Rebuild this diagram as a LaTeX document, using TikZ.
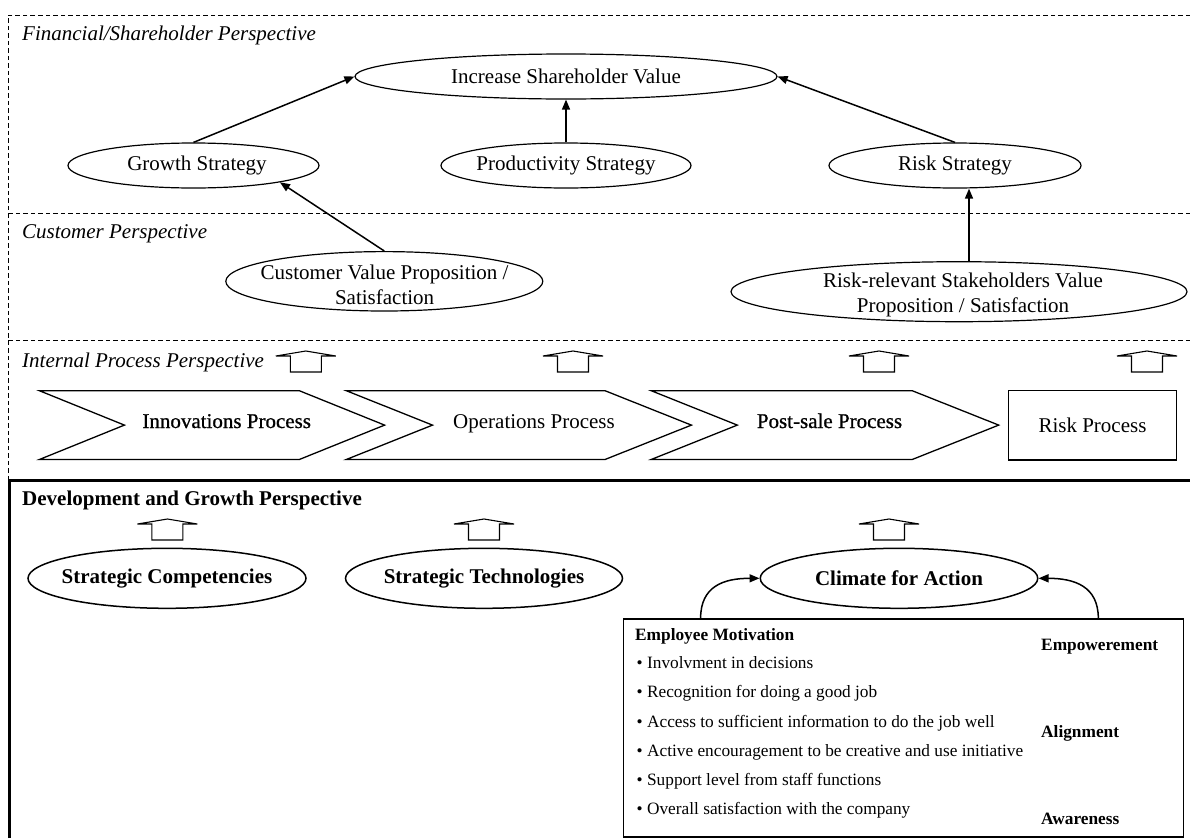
\documentclass[tikz,border=0pt]{standalone}
\usepackage{fontspec}
\setmainfont{Liberation Serif}
\newfontfamily\heavyserif{Liberation Serif}[FakeBold=0.8]
\usetikzlibrary{arrows.meta,shapes.geometric}
\tikzset{
  uparrow/.pic={\draw[line width=1.1pt,line join=miter]
    (-30,5) -- (0,0) -- (30,5) -- (15.5,5) -- (15.5,21) -- (-15.5,21) -- (-15.5,5) -- cycle;}
}
\begin{document}
\begin{tikzpicture}[x=1pt,y=-1pt,
  every node/.style={inner sep=0pt,font=\fontsize{21}{25}\selectfont},
  ell/.style={draw,ellipse,line width=1.2pt},
  bell/.style={draw,ellipse,line width=1.5pt},
  arr/.style={line width=1.5pt,-{Triangle[length=10pt,width=8pt]}},
  sep/.style={line width=0.9pt,dash pattern=on 4.5pt off 3pt},
  persp/.style={anchor=base west,font=\fontsize{21}{25}\selectfont\itshape},
  procline/.style={line width=1.3pt,line join=miter},
  boxtxt/.style={anchor=west,font=\fontsize{17.3}{20}\selectfont,text height=12.5pt,text depth=2.5pt},
  boxbold/.style={boxtxt,font=\fontsize{17.3}{20}\selectfont\bfseries}
]
\useasboundingbox (0,0) rectangle (1190,838);

% perspective frames
\draw[sep] (1190,15) -- (8.4,15) -- (8.4,480);
\draw[sep] (8.4,213) -- (1190,213);
\draw[sep] (8.4,340) -- (1190,340);
\draw[line width=3pt,line join=miter] (9.2,838) -- (9.2,480) -- (1190,480);

% perspective titles
\node[persp] (pfin) at (22,40.5) {Financial/Shareholder Perspective};
\node[persp] (pcus) at (22,238.3) {Customer Perspective};
\node[persp] (pint) at (22,367.5) {Internal Process Perspective};
\node[anchor=base west,font=\fontsize{21}{25}\selectfont\bfseries] (pdev) at (22,505.5) {Development and Growth Perspective};

% financial perspective
\node[ell,minimum width=422pt,minimum height=45pt] (inc) at (566,76.5) {};
\node (inctxt) at (566,76.5) {Increase Shareholder Value};
\node[ell,minimum width=251pt,minimum height=45pt] (growth) at (193.5,165.5) {};
\node (growthtxt) at (197,165.5) {Growth Strategy};
\node[ell,minimum width=250pt,minimum height=45pt] (prod) at (566,165.5) {};
\node (prodtxt) at (566,165.5) {Productivity Strategy};
\node[ell,minimum width=252pt,minimum height=45pt] (risk) at (955,165.5) {};
\node (risktxt) at (955,165.5) {Risk Strategy};

% customer perspective
\node[ell,minimum width=317pt,minimum height=59.4pt] (cust) at (384.3,281.3) {};
\node[align=center] (custtxt) at (384.6,285) {Customer Value Proposition /\\Satisfaction};
\node[ell,minimum width=456pt,minimum height=60pt] (riskrel) at (959,291.7) {};
\node[align=center] (riskreltxt) at (963,295.3) {Risk-relevant Stakeholders Value\\Proposition / Satisfaction};

\draw[arr] (growth.north) -- (inc.west);
\draw[arr] (prod.north) -- (inc.south);
\draw[arr] (risk.north) -- (inc.east);
\draw[arr] (cust.north) -- (growth.-11);
\draw[arr] ([xshift=10pt]riskrel.north) -- ([xshift=14pt]risk.south);

% internal process perspective
\pic at (305.8,351) {uparrow};
\pic at (573,351) {uparrow};
\pic at (879,351) {uparrow};
\pic at (1147,351) {uparrow};

\draw[procline] (39.4,390.7) -- (299.3,390.7) -- (384.6,425.1) -- (299.3,459.5) -- (39.4,459.5) -- (124.4,425.1) -- cycle;
\draw[procline] (346.3,390.7) -- (605,390.7) -- (691.4,425.1) -- (605,459.5) -- (346.3,459.5) -- (432.5,425.1) -- cycle;
\draw[procline] (651.2,390.7) -- (912.2,390.7) -- (998.7,425.1) -- (912.2,459.5) -- (651.2,459.5) -- (737.3,425.1) -- cycle;
\node[anchor=base,font=\fontsize{21}{25}\heavyserif] (innov) at (226.7,428) {Innovations Process};
\node[anchor=base] (oper) at (534,428) {Operations Process};
\node[anchor=base,font=\fontsize{21}{25}\heavyserif] (post) at (829.5,428) {Post-sale Process};
\node[draw,line width=1.2pt,minimum width=168.4pt,minimum height=69.3pt] (riskp) at (1092.5,425.3) {Risk Process};

% development and growth perspective
\pic at (167.4,519) {uparrow};
\pic at (484,519) {uparrow};
\pic at (889,519) {uparrow};

\node[bell,minimum width=278pt,minimum height=60pt] (comp) at (167,578.3) {};
\node[font=\fontsize{21}{25}\selectfont\bfseries] (comptxt) at (167,578.3) {Strategic Competencies};
\node[bell,minimum width=277pt,minimum height=60pt] (tech) at (484,578.3) {};
\node[font=\fontsize{21}{25}\selectfont\bfseries] (techtxt) at (484,578.3) {Strategic Technologies};
\node[bell,minimum width=277.5pt,minimum height=60pt] (clim) at (899,578.3) {};
\node[font=\fontsize{21}{25}\selectfont\bfseries] (climtxt) at (899,578.3) {Climate for Action};

\node[draw,line width=1.3pt,anchor=north west,minimum width=560.4pt,minimum height=218pt] (motiv) at (622.6,618.3) {};

\draw[arr] ([xshift=78pt]motiv.north west) .. controls +(0,-32) and +(-36,0) .. (clim.west);
\draw[arr] ([xshift=-86pt]motiv.north east) .. controls +(0,-32) and +(36,0) .. (clim.east);

\node[boxbold] (em) at (635,635) {Employee Motivation};
\node[boxtxt] (b1) at (636.5,663.3) {• Involvment in decisions};
\node[boxtxt] (b2) at (636.5,692.7) {• Recognition for doing a good job};
\node[boxtxt] (b3) at (636.5,722.7) {• Access to sufficient information to do the job well};
\node[boxtxt] (b4) at (636.5,751.7) {• Active encouragement to be creative and use initiative};
\node[boxtxt] (b5) at (636.5,780) {• Support level from staff functions};
\node[boxtxt] (b6) at (636.5,809.3) {• Overall satisfaction with the company};
\node[boxbold] (emp) at (1041,645) {Empowerement};
\node[boxbold] (ali) at (1041,732.7) {Alignment};
\node[boxbold] (awa) at (1041,819.3) {Awareness};
\end{tikzpicture}
\end{document}
